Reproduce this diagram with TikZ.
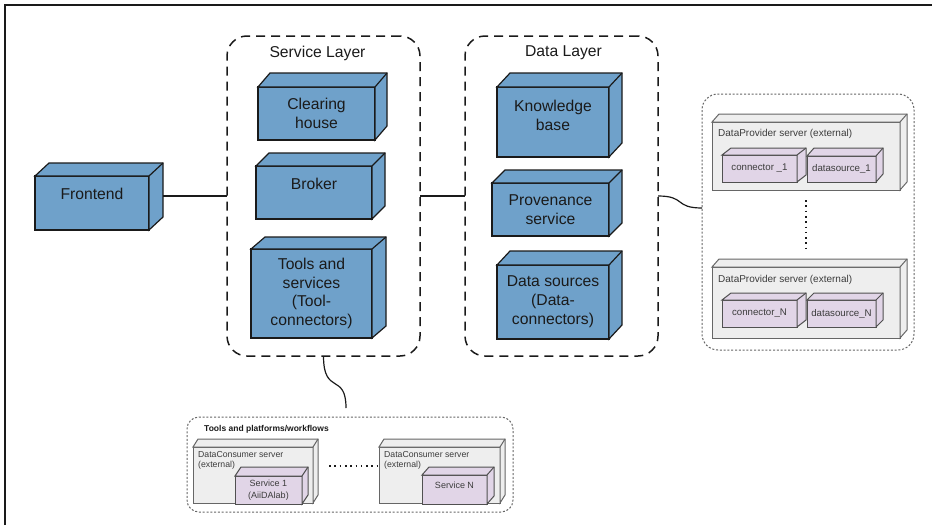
\documentclass[tikz,border=0pt]{standalone}
\usepackage{fontspec}
\setmainfont{Liberation Sans}
\usepackage{tikz}

\definecolor{cubeblue}{RGB}{111,161,202}
\definecolor{inkblack}{RGB}{26,26,26}
\definecolor{servergray}{RGB}{238,238,238}
\definecolor{serverline}{RGB}{102,102,102}
\definecolor{partpurple}{RGB}{225,213,231}
\definecolor{partline}{RGB}{80,80,80}
\definecolor{smallink}{RGB}{60,60,60}

% top and side faces of a box node: node, dx, dy, style
\newcommand{\cubefaces}[4]{%
  \draw[#4] (#1.north west) -- ++(#2,-#3) -- ([shift={(#2,-#3)}]#1.north east)
    -- ([shift={(#2,-#3)}]#1.south east) -- (#1.south east) -- (#1.north east) -- cycle;
  \draw[#4] (#1.north east) -- ++(#2,-#3);
}

\begin{document}
\begin{tikzpicture}[x=1pt, y=-1pt,
  cube/.style={draw=inkblack, fill=cubeblue, line width=1.2pt, inner sep=0pt, outer sep=0pt,
    align=center, text=inkblack, font=\fontsize{15.7}{18.8}\selectfont},
  cubeface/.style={draw=inkblack, fill=cubeblue, line width=1.2pt},
  cubetext/.style={inner sep=0pt, align=center, text=inkblack, font=\fontsize{15.7}{18.8}\selectfont},
  layer/.style={draw=inkblack, line width=1.5pt, dash pattern=on 9pt off 6pt,
    rounded corners=20pt, outer sep=0pt},
  group/.style={draw=serverline, line width=1pt, dash pattern=on 2pt off 1.8pt,
    rounded corners=16pt, outer sep=0pt},
  server/.style={draw=serverline, fill=servergray, line width=1pt, inner sep=0pt, outer sep=0pt},
  serverface/.style={draw=serverline, fill=servergray, line width=1pt},
  servertext/.style={inner sep=0pt, align=left, text=smallink},
  part/.style={draw=partline, fill=partpurple, line width=1pt, inner sep=0pt, outer sep=0pt,
    align=center, text=smallink, font=\fontsize{9.7}{12}\selectfont},
  partface/.style={draw=partline, fill=partpurple, line width=1pt},
  parttext/.style={inner sep=0pt, align=center, text=smallink, font=\fontsize{9}{12}\selectfont},
  link/.style={draw=inkblack, line width=1.2pt},
  dots/.style={draw=inkblack, line width=1.6pt, dash pattern=on 1.6pt off 3.7pt}
]
\useasboundingbox (0,0) rectangle (932,525);

% ---- Frame ----
\draw[line width=2.2pt, inkblack] (5,525) -- (5,5) -- (932,5);

% ---- Frontend ----
\node[cube, minimum width=114, minimum height=54,
  label={[name=frontlabel, cubetext, yshift=9pt]center:Frontend}] (front) at (92,203) {};
\cubefaces{front}{14}{13}{cubeface}

% ---- Service layer ----
\node[layer, minimum width=193, minimum height=320] (svc) at (323.5,196) {};
\node[cubetext] (svctitle) at (317.5,53) {Service Layer};
\node[cube, minimum width=117, minimum height=53] (clear) at (316.5,113.5) {Clearing\\house};
\cubefaces{clear}{12}{14}{cubeface}
\node[cube, minimum width=116, minimum height=53,
  label={[name=brokerlabel, cubetext, yshift=8.5pt]center:Broker}] (broker) at (314,192.5) {};
\cubefaces{broker}{13}{13}{cubeface}
\node[cube, minimum width=121, minimum height=89] (toolconn) at (311.5,293.5)
  {Tools and\\services\\(Tool-\\connectors)};
\cubefaces{toolconn}{14}{12}{cubeface}

% ---- Data layer ----
\node[layer, minimum width=193, minimum height=320] (data) at (561.5,196) {};
\node[cubetext] (datatitle) at (563.5,53) {Data Layer};
\node[cube, minimum width=112, minimum height=70,
  label={[name=kblabel, cubetext, yshift=7pt]center:{Knowledge\\base}}] (kb) at (553,122) {};
\cubefaces{kb}{13}{14}{cubeface}
\node[cube, minimum width=117, minimum height=53] (provsvc) at (550.5,209.5) {Provenance\\service};
\cubefaces{provsvc}{13}{13}{cubeface}
\node[cube, minimum width=112, minimum height=74] (sources) at (553,302)
  {Data sources\\(Data-\\connectors)};
\cubefaces{sources}{13}{14}{cubeface}

% ---- Data providers ----
\node[group, minimum width=212, minimum height=256] (providers) at (808,222) {};
\node[server, minimum width=188, minimum height=68] (prov1) at (806,156) {};
\cubefaces{prov1}{7}{8}{serverface}
\node[servertext, anchor=west, font=\fontsize{10}{12}\selectfont] (prov1text) at (718,134)
  {DataProvider server (external)};
\node[part, minimum width=75, minimum height=27] (conn1) at (759.5,168.5) {connector \_1};
\cubefaces{conn1}{9}{7}{partface}
\node[part, minimum width=69, minimum height=26] (src1) at (841.5,169) {datasource\_1};
\cubefaces{src1}{7}{8}{partface}
\draw[dots] (806,200) -- (806,248);
\node[server, minimum width=188, minimum height=71] (prov2) at (806,302.5) {};
\cubefaces{prov2}{7}{8}{serverface}
\node[servertext, anchor=west, font=\fontsize{10}{12}\selectfont] (prov2text) at (718,280)
  {DataProvider server (external)};
\node[part, minimum width=75, minimum height=27] (connN) at (759.5,313.5) {connector\_N};
\cubefaces{connN}{9}{7}{partface}
\node[part, minimum width=69, minimum height=27] (srcN) at (841.5,313.5) {datasource\_N};
\cubefaces{srcN}{7}{7}{partface}

% ---- Tools and platforms ----
\node[group, rounded corners=12pt, minimum width=326, minimum height=95] (consumers) at (350,464.5) {};
\node[servertext, anchor=west, text=inkblack, font=\bfseries\fontsize{8.5}{10}\selectfont]
  (consumerstitle) at (204,429) {Tools and platforms/workflows};
\node[server, minimum width=120, minimum height=56] (cons1) at (253,475) {};
\cubefaces{cons1}{5}{8}{serverface}
\node[servertext, anchor=north west, font=\fontsize{8.7}{10.5}\selectfont] (cons1text) at (198,451)
  {DataConsumer server\\(external)};
\node[part, minimum width=67, minimum height=28, font=\fontsize{9}{12}\selectfont] (tool1) at (268.5,490)
  {Service 1\\(AiiDAlab)};
\cubefaces{tool1}{6}{9}{partface}
\draw[dots] (329,466) -- (377,466);
\node[server, minimum width=121, minimum height=56] (cons2) at (439.5,475) {};
\cubefaces{cons2}{5}{8}{serverface}
\node[servertext, anchor=north west, font=\fontsize{8.7}{10.5}\selectfont] (cons2text) at (384,451)
  {DataConsumer server\\(external)};
\node[part, minimum width=65, minimum height=29,
  label={[name=toolNlabel, parttext, yshift=4.5pt]center:Service N}] (toolN) at (454.5,489.5) {};
\cubefaces{toolN}{7}{8}{partface}

% ---- Links ----
\coordinate (frontout) at ([xshift=14pt]front.east);
\draw[link] (frontout |- svc.west) -- (svc.west);
\draw[link] (svc.east) -- (data.west);
\coordinate (providersin) at ([yshift=14pt]providers.west);
\draw[link] (data.east) .. controls +(28,0) and +(-28,0) .. (providersin);
\coordinate (consumersin) at ([shift={(-4pt,9pt)}]consumers.north);
\draw[link] (svc.south) .. controls +(0,40) and +(0,-36) .. (consumersin);

\end{tikzpicture}
\end{document}
